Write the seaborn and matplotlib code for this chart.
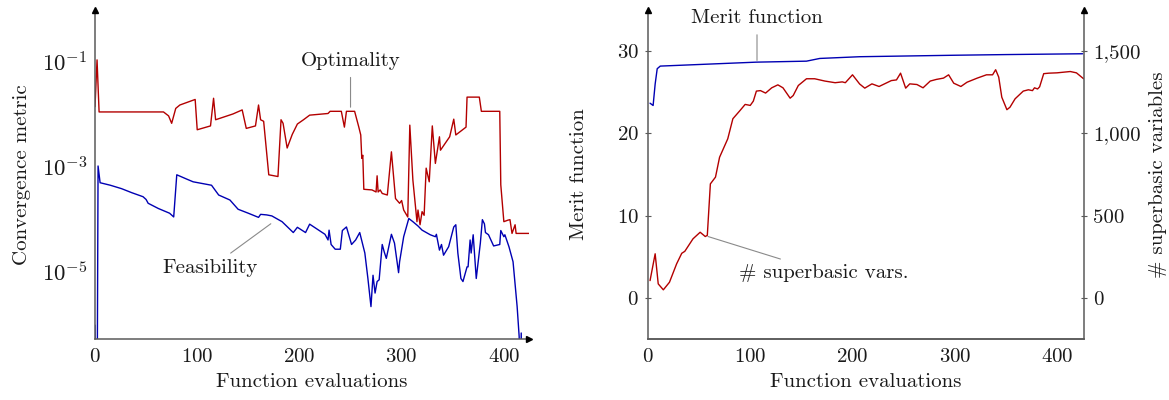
import numpy as np
import pandas as pd
import matplotlib
matplotlib.use("Agg")
import matplotlib.pyplot as plt
import seaborn as sns

# ---------------- data ----------------
opt_x = [0, 2, 4, 67, 72, 75, 79, 83, 98, 100, 113, 116, 118, 135, 144, 148, 157, 160, 162, 165,
         170, 179, 182, 184, 188, 193, 198, 204, 210, 228, 230, 241, 244, 246, 254, 258, 260, 261,
         262, 263, 271, 275, 276, 277, 279, 281, 286, 290, 294, 298, 300, 302, 306, 308, 311, 315,
         316, 318, 320, 322, 324, 327, 330, 333, 335, 337, 338, 347, 351, 353, 363, 364, 376, 378,
         396, 397, 400, 404, 406, 408, 411, 412, 425]
opt_y = [1.35e-2, 1.05e-1, 1.07e-2, 1.07e-2, 9.0e-3, 6.5e-3, 1.25e-2, 1.45e-2, 1.85e-2, 4.9e-3,
         5.8e-3, 1.95e-2, 7.6e-3, 9.8e-3, 1.17e-2, 5.2e-3, 5.8e-3, 1.45e-2, 7.6e-3, 7.1e-3,
         6.8e-4, 6.3e-4, 7.6e-3, 6.5e-3, 2.2e-3, 4.0e-3, 6.3e-3, 7.6e-3, 9.3e-3, 1.0e-2, 1.1e-2,
         1.1e-2, 5.5e-3, 1.1e-2, 1.1e-2, 5.6e-3, 3.9e-3, 1.4e-3, 1.6e-3, 3.6e-4, 3.5e-4, 3.2e-4,
         6.5e-4, 3.2e-4, 3.5e-4, 3.0e-4, 2.8e-4, 1.86e-3, 2.4e-4, 1.95e-4, 2.2e-4, 1.45e-4, 1.07e-4,
         6.0e-3, 5.4e-4, 8.7e-5, 1.45e-4, 7.6e-5, 1.35e-4, 1.15e-4, 9.1e-4, 5.0e-4, 5.8e-3, 1.12e-3,
         2.0e-3, 3.6e-3, 2.0e-3, 3.6e-3, 7.8e-3, 3.9e-3, 5.5e-3, 2.05e-2, 2.05e-2, 1.1e-2, 1.1e-2,
         4.4e-4, 8.7e-5, 9.3e-5, 9.5e-5, 5.2e-5, 7.6e-5, 5.2e-5, 5.2e-5]

feas_x = [0, 1, 2, 3, 5, 15, 26, 36, 47, 50, 52, 62, 73, 77, 80, 90, 96, 114, 121, 132, 140, 150,
          160, 162, 168, 173, 183, 194, 198, 206, 210, 225, 228, 229, 231, 235, 240, 242, 246, 251,
          255, 259, 264, 267, 270, 272, 274, 276, 278, 281, 283, 285, 290, 293, 297, 298, 302, 307,
          311, 316, 320, 328, 333, 334, 337, 339, 341, 346, 351, 353, 355, 358, 360, 364, 365, 367,
          368, 370, 373, 377, 379, 381, 382, 385, 390, 396, 397, 400, 401, 405, 409, 413, 415, 416,
          417, 418]
feas_y = [9.3e-7, 1e-8, 1e-8, 1.0e-3, 4.8e-4, 4.3e-4, 3.7e-4, 3.1e-4, 2.6e-4, 2.3e-4, 1.95e-4,
          1.55e-4, 1.26e-4, 1.07e-4, 6.8e-4, 5.6e-4, 5.0e-4, 4.3e-4, 2.8e-4, 2.25e-4, 1.5e-4,
          1.26e-4, 1.05e-4, 1.2e-4, 1.17e-4, 1.12e-4, 8.7e-5, 5.4e-5, 6.8e-5, 5.4e-5, 7.8e-5,
          5.0e-5, 3.9e-5, 6.0e-5, 3.2e-5, 2.6e-5, 2.6e-5, 5.9e-5, 6.9e-5, 3.2e-5, 3.9e-5, 5.4e-5,
          2.2e-5, 7.2e-6, 2.1e-6, 8.3e-6, 3.8e-6, 6.3e-6, 6.8e-6, 3.2e-5, 2.3e-5, 1.74e-5, 5.0e-5,
          3.4e-5, 9.3e-6, 1.5e-5, 4.5e-5, 1.0e-4, 8.7e-5, 7.2e-5, 6.0e-5, 4.9e-5, 4.5e-5, 5.0e-5,
          2.5e-5, 3.2e-5, 2.0e-5, 2.9e-5, 6.9e-5, 7.6e-5, 2.2e-5, 7.2e-6, 6.3e-6, 1.2e-5, 1.2e-5,
          3.9e-5, 2.2e-5, 4.9e-5, 7.2e-6, 3.4e-5, 9.5e-5, 7.9e-5, 5.4e-5, 4.9e-5, 3.0e-5, 3.2e-5,
          5.9e-5, 4.5e-5, 4.9e-5, 2.9e-5, 1.5e-5, 2.1e-6, 5.6e-7, 1e-8, 6.6e-7, 1e-8]

merit_x = [2, 5, 7, 9, 12, 106, 155, 168, 207, 300, 350, 425]
merit_y = [23.67, 23.39, 26.0, 27.86, 28.18, 28.66, 28.78, 29.11, 29.32, 29.5, 29.58, 29.68]

sb_x = [2, 7, 10, 15, 21, 28, 33, 36, 44, 51, 56, 58, 61, 66, 70, 78, 83, 90, 95, 100, 103, 106,
        110, 115, 121, 127, 132, 139, 142, 147, 155, 163, 173, 183, 190, 193, 200, 207, 212, 219,
        226, 238, 243, 247, 252, 256, 263, 269, 276, 282, 289, 294, 299, 306, 312, 322, 331, 337,
        340, 343, 346, 351, 354, 359, 367, 372, 376, 378, 381, 383, 387, 392, 400, 413, 419, 426]
sb_y = [105, 268, 85, 49, 95, 207, 271, 283, 359, 399, 373, 380, 693, 734, 855, 967, 1089, 1139,
        1176, 1170, 1196, 1257, 1260, 1245, 1277, 1295, 1277, 1214, 1230, 1291, 1332, 1332, 1318,
        1308, 1313, 1308, 1356, 1300, 1275, 1301, 1285, 1321, 1325, 1366, 1275, 1301, 1297, 1277,
        1318, 1328, 1336, 1356, 1305, 1285, 1311, 1336, 1356, 1356, 1387, 1342, 1220, 1144, 1159,
        1210, 1257, 1265, 1260, 1277, 1270, 1283, 1363, 1366, 1368, 1376, 1368, 1332]

left_yticks = [1e-1, 1e-3, 1e-5]
left_yticklabels = [r"$10^{-1}$", r"$10^{-3}$", r"$10^{-5}$"]
x_ticks = [0, 100, 200, 300, 400]
merit_ticks = [0, 10, 20, 30]
sb_ticks = [0, 500, 1000, 1500]
sb_ticklabels = ["0", "500", "1,000", "1,500"]

# ---------------- style ----------------
sns.set_style("white")
plt.rcParams["font.family"] = ["cmr10", "DejaVu Serif"]
plt.rcParams["mathtext.fontset"] = "cm"
plt.rcParams["axes.formatter.use_mathtext"] = True
plt.rcParams["axes.unicode_minus"] = False

RED = "#b30000"
BLUE = "#0000b3"
SPINE = "#5a5a5a"
TXT = "#1a1a1a"
FS = 15

fig = plt.figure(figsize=(11.69, 4.0), dpi=100)
W, H = 1169.0, 400.0


def style_axis(ax, sides):
    for s in ["left", "right", "top", "bottom"]:
        ax.spines[s].set_visible(s in sides)
        ax.spines[s].set_color(SPINE)
        ax.spines[s].set_linewidth(1.1)
    ax.tick_params(direction="inout", length=5, width=0.8, color=SPINE,
                   labelsize=FS, labelcolor=TXT, pad=4)


def arrowhead(ax, x, y, marker):
    ax.plot([x], [y], marker=marker, transform=ax.transAxes, clip_on=False,
            color="black", markersize=4.5, zorder=10)


# ---------------- left panel ----------------
ax1 = fig.add_axes([95 / W, 1 - 339 / H, 434.4 / W, 329 / H])
df_opt = pd.DataFrame({"x": opt_x, "y": opt_y})
df_feas = pd.DataFrame({"x": feas_x, "y": feas_y})
sns.lineplot(data=df_opt, x="x", y="y", ax=ax1, color=RED, linewidth=1.0,
             estimator=None, sort=False)
sns.lineplot(data=df_feas, x="x", y="y", ax=ax1, color=BLUE, linewidth=1.0,
             estimator=None, sort=False)
ax1.set_yscale("log")
ax1.set_xlim(0, 425)
ax1.set_ylim(10 ** -6.295, 10 ** -0.029)
ax1.set_xticks(x_ticks)
ax1.set_yticks(left_yticks)
ax1.set_yticklabels(left_yticklabels)
ax1.yaxis.set_minor_locator(matplotlib.ticker.NullLocator())
style_axis(ax1, ["left", "bottom"])
ax1.tick_params(axis="y", labelsize=16.5, pad=3)
ax1.set_xlabel("Function evaluations", fontsize=FS, color=TXT, labelpad=5)
ax1.set_ylabel("Convergence metric", fontsize=FS, color=TXT, labelpad=8)
arrowhead(ax1, 1, 0, ">")
arrowhead(ax1, 0, 1, "^")

ann_kw = dict(fontsize=FS, color=TXT, ha="center", va="center",
              arrowprops=dict(arrowstyle="-", color="#8a8a8a", lw=0.8,
                              shrinkA=3, shrinkB=0))
ax1.annotate("Optimality", xy=(250, 10 ** -1.88), xytext=(250, 10 ** -1.0), **ann_kw)
ax1.annotate("Feasibility", xy=(172, 10 ** -4.10), xytext=(113, 10 ** -4.94), **ann_kw)

# ---------------- right panel ----------------
ax2 = fig.add_axes([648 / W, 1 - 339 / H, 436 / W, 329 / H])
ax3 = ax2.twinx()
df_sb = pd.DataFrame({"x": sb_x, "y": sb_y})
df_merit = pd.DataFrame({"x": merit_x, "y": merit_y})
sns.lineplot(data=df_sb, x="x", y="y", ax=ax3, color=RED, linewidth=1.0,
             estimator=None, sort=False)
sns.lineplot(data=df_merit, x="x", y="y", ax=ax2, color=BLUE, linewidth=1.0,
             estimator=None, sort=False)
ax2.set_xlim(0, 426.4)
ax2.set_ylim(-5, 35)
ax3.set_ylim(-250, 1750)
ax2.set_xticks(x_ticks)
ax2.set_yticks(merit_ticks)
ax3.set_yticks(sb_ticks)
ax3.set_yticklabels(sb_ticklabels)
style_axis(ax2, ["left", "bottom"])
style_axis(ax3, ["right", "bottom"])
ax2.set_xlabel("Function evaluations", fontsize=FS, color=TXT, labelpad=5)
ax2.set_ylabel("Merit function", fontsize=FS, color=TXT, labelpad=21)
ax3.set_ylabel("# superbasic variables", fontsize=FS, color=TXT, labelpad=6)
ax3.set_xlabel("")
arrowhead(ax2, 0, 1, "^")
arrowhead(ax3, 1, 1, "^")

ax2.annotate("Merit function", xy=(106.6, 28.87), xytext=(106.6, 33.98), **ann_kw)
ax2.annotate("# superbasic vars.", xy=(58.7, 7.46), xytext=(172, 3.08), **ann_kw)

fig.savefig("out.png", dpi=100)
